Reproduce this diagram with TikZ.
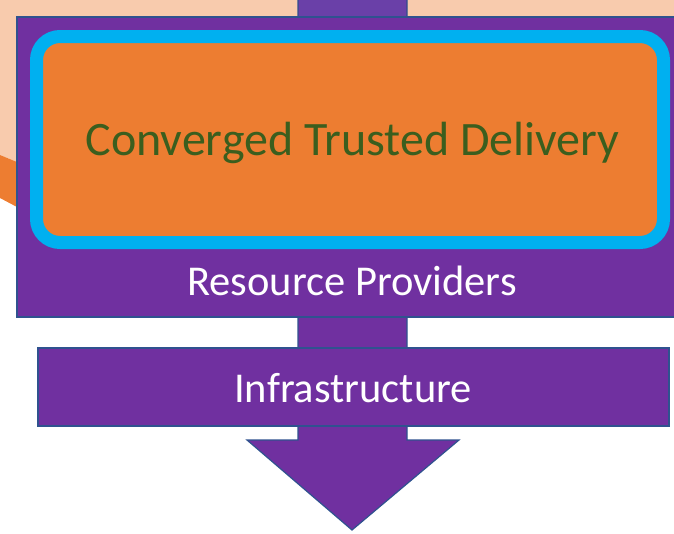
\documentclass[tikz,border=0pt]{standalone}
\usepackage{fontspec}
\setmainfont{Carlito}
\definecolor{peach}{HTML}{F8CBAD}
\definecolor{orangeA}{HTML}{ED7D31}
\definecolor{purpleA}{HTML}{7030A0}
\definecolor{purpleTop}{HTML}{6A40A8}
\definecolor{cyanA}{HTML}{00B0F0}
\definecolor{greenA}{HTML}{3B5E1E}
\definecolor{outlineA}{HTML}{2F528F}
\definecolor{shadowA}{HTML}{44546A}
\tikzset{
  purplebox/.style={draw=outlineA, line width=1.2pt, fill=purpleA, inner sep=0pt},
  whitetext/.style={text=white, font=\fontsize{42.5}{48}\selectfont, inner sep=0pt, anchor=base},
  deliverybox/.style={draw=cyanA, line width=13pt, fill=orangeA, rounded corners=23.5pt, inner sep=0pt},
}
\begin{document}
\begin{tikzpicture}[x=1pt,y=-1pt]
\useasboundingbox (0,0) rectangle (674,533);
% background
\fill[peach] (0,0) -- (680,0) -- (680,30) -- (30,30) -- (30,166) -- (17,162) -- (0,155) -- cycle;
\fill[orangeA] (0,155) -- (17,162) -- (30,166) -- (30,212) -- (17,207) -- (0,198) -- cycle;
% arrow
\draw[purplebox] (298,-5) -- (407,-5) -- (407,440) -- (459,440) -- (352,530) -- (247,440) -- (298,440) -- cycle;
\fill[purpleTop] (298.6,-5) rectangle (406.4,16);
% resource providers
\node[purplebox, minimum width=663pt, minimum height=300pt] (rp) at (348.5,167) {};
\node[whitetext] (rpt) at (352,295) {Resource Providers};
% delivery
\fill[shadowA, rounded corners=23.5pt] (41.5,36.5) rectangle (668.5,243.5);
\node[deliverybox, minimum width=627pt, minimum height=206pt] (ctd) at (350,139.5) {};
\node[text=greenA, font=\fontsize{48}{56}\selectfont, inner sep=0pt, anchor=base] (ctdt) at (352.5,155.5) {Converged Trusted Delivery};
% infrastructure
\node[purplebox, minimum width=631pt, minimum height=78pt] (inf) at (353.5,387) {};
\node[whitetext] (inft) at (353,402) {Infrastructure};
\end{tikzpicture}
\end{document}
